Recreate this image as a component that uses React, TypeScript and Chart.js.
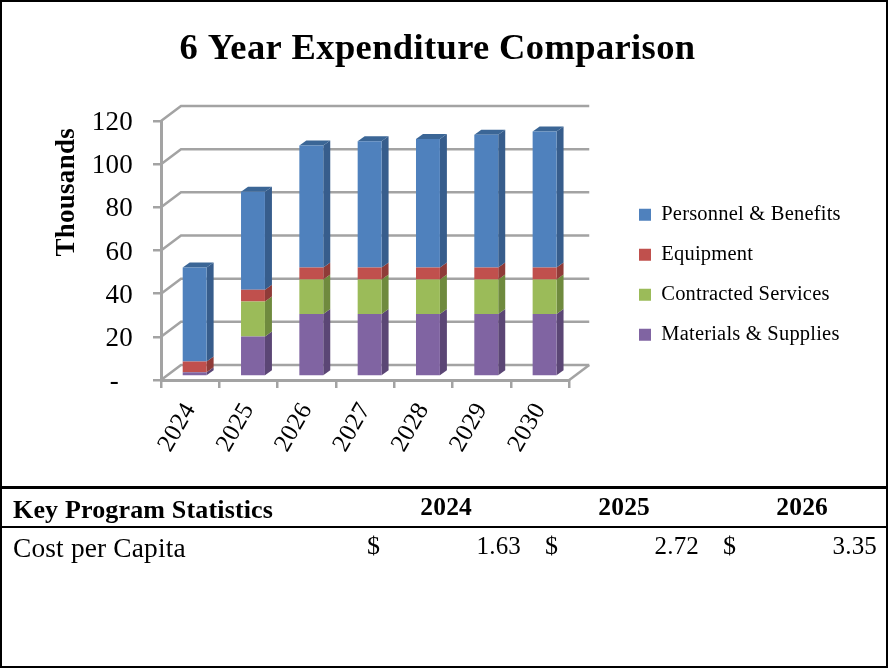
import React, { useEffect, useRef } from "react";
import { Chart, registerables } from "chart.js";

Chart.register(...registerables);

const FONT = "'Liberation Serif', serif";
const categories = ["2024", "2025", "2026", "2027", "2028", "2029", "2030"];
const materials = [2, 18.5, 29, 29, 29, 29, 29];
const contracted = [0, 16.3, 16, 16, 16, 16, 16];
const equipment = [5, 5.4, 5.5, 5.5, 5.5, 5.5, 5.5];
const personnel = [43.5, 45.4, 56.5, 58.5, 59.5, 61.5, 63];
const statYears = ["2024", "2025", "2026"];
const costPerCapita = ["1.63", "2.72", "3.35"];

const GRAY = "#a3a3a3";
const WALL = { x: 20, y: -15 };
const SHIFT = { x: 4.5, y: -3.5 };
const SIDE = { x: 7, y: -5 };
const sideColors = ["#5b4675", "#6f8a3e", "#8f3b38", "#375d8c"];

const depth3d = {
  id: "depth3d",
  beforeUpdate(chart: any) {
    chart.ctx.letterSpacing = "0.01em";
  },
  afterLayout(chart: any) {
    const legend = chart.legend;
    const h = legend.height;
    legend.left = 639 - 19.5;
    legend.right = 888;
    legend.top = 185;
    legend.bottom = legend.top + h;
    const title = chart.titleBlock;
    title.left = 0;
    title.right = 875;
  },
  beforeDatasetsDraw(chart: any) {
    const { ctx, chartArea: a, scales } = chart;
    ctx.save();
    ctx.strokeStyle = GRAY;
    ctx.lineWidth = 2.5;
    for (const t of scales.y.ticks) {
      const y = scales.y.getPixelForValue(t.value);
      ctx.beginPath();
      ctx.moveTo(a.left, y);
      ctx.lineTo(a.left + WALL.x, y + WALL.y);
      ctx.lineTo(a.right + WALL.x, y + WALL.y);
      ctx.stroke();
    }
    ctx.beginPath();
    ctx.moveTo(a.right, a.bottom);
    ctx.lineTo(a.right + WALL.x, a.bottom + WALL.y);
    ctx.stroke();
    ctx.restore();

    ctx.save();
    ctx.translate(SHIFT.x, SHIFT.y);
    chart.data.datasets.forEach((ds: any, di: number) => {
      const last = di === chart.data.datasets.length - 1;
      chart.getDatasetMeta(di).data.forEach((el: any) => {
        const { x, y, base, width } = el.getProps(["x", "y", "base", "width"], true);
        const r = x + width / 2;
        const l = x - width / 2;
        ctx.fillStyle = sideColors[di];
        ctx.beginPath();
        ctx.moveTo(r, y);
        ctx.lineTo(r + SIDE.x, y + SIDE.y);
        ctx.lineTo(r + SIDE.x, base + SIDE.y);
        ctx.lineTo(r, base);
        ctx.closePath();
        ctx.fill();
        if (last) {
          ctx.fillStyle = "#3b6696";
          ctx.beginPath();
          ctx.moveTo(l, y);
          ctx.lineTo(l + SIDE.x, y + SIDE.y);
          ctx.lineTo(r + SIDE.x, y + SIDE.y);
          ctx.lineTo(r, y);
          ctx.closePath();
          ctx.fill();
        }
      });
    });
    ctx.restore();

    ctx.save();
    ctx.translate(SHIFT.x, SHIFT.y);
  },
  afterDatasetsDraw(chart: any) {
    chart.ctx.restore();
  },
};

const cell = (left: number, top: number, text: string, opts: any = {}) => (
  <span
    key={`${left}-${top}-${text}-${opts.right}`}
    style={{
      position: "absolute",
      top,
      lineHeight: "30px",
      whiteSpace: "nowrap",
      ...(opts.right !== undefined ? { right: 888 - opts.right } : { left }),
      fontWeight: opts.bold ? 700 : 400,
      fontSize: opts.size ?? 25,
    }}
  >
    {text}
  </span>
);

export default function App() {
  const ref = useRef<HTMLCanvasElement>(null);
  useEffect(() => {
    document.body.style.margin = "0";
    const chart = new Chart(ref.current!, {
      type: "bar",
      data: {
        labels: categories,
        datasets: [
          { label: "Materials & Supplies", data: materials, backgroundColor: "#8064a2" },
          { label: "Contracted Services", data: contracted, backgroundColor: "#9bbb59" },
          { label: "Equipment", data: equipment, backgroundColor: "#c0504d" },
          { label: "Personnel & Benefits", data: personnel, backgroundColor: "#4f81bd" },
        ],
      },
      options: {
        responsive: false,
        animation: false,
        layout: { padding: { top: 0, left: 0, bottom: 0, right: 129 } },
        datasets: { bar: { barPercentage: 0.41, categoryPercentage: 1 } },
        plugins: {
          title: {
            display: true,
            text: "6 Year Expenditure Comparison",
            color: "#000",
            font: { family: FONT, size: 36.5, weight: "bold", lineHeight: 1.2 },
            padding: { top: 27.8, bottom: 49.4 },
          },
          legend: {
            position: "right",
            align: "start",
            reverse: true,
            labels: {
              boxWidth: 12,
              boxHeight: 12,
              padding: 19.5,
              color: "#000",
              font: { family: FONT, size: 20.5, lineHeight: 1 },
            },
          },
          tooltip: { enabled: false },
        },
        scales: {
          x: {
            stacked: true,
            afterFit(s: any) {
              s.height = 106;
            },
            border: { color: GRAY, width: 3 },
            grid: { drawOnChartArea: false, color: GRAY, lineWidth: 2.5, tickLength: 8 },
            ticks: {
              color: "#000",
              minRotation: 60,
              maxRotation: 60,
              padding: 10,
              font: { family: FONT, size: 25 },
            },
          },
          y: {
            stacked: true,
            min: 0,
            max: 120,
            afterFit(s: any) {
              s.width = 161;
            },
            border: { color: GRAY, width: 3 },
            grid: { drawOnChartArea: false, color: GRAY, lineWidth: 2.5, tickLength: 8 },
            title: {
              display: true,
              text: "Thousands ",
              align: "end",
              color: "#000",
              font: { family: FONT, size: 27, weight: "bold" },
              padding: { top: 51, bottom: 0 },
            },
            ticks: {
              stepSize: 20,
              color: "#000",
              padding: 20,
              labelOffset: 2,
              font: { family: FONT, size: 27 },
              callback: (v: any) => (v === 0 ? "-  " : String(v)),
            },
          },
        },
      },
      plugins: [depth3d],
    } as any);
    return () => chart.destroy();
  }, []);

  const dollarX = [367, 545, 723];
  const headEnds = [472, 650, 828];
  const valueEnds = [521, 699, 877];

  return (
    <div
      style={{
        position: "relative",
        width: 888,
        height: 668,
        boxSizing: "border-box",
        overflow: "hidden",
        background: "#fff",
        fontFamily: FONT,
        letterSpacing: "0.01em",
        color: "#000",
      }}
    >
      <canvas ref={ref} width={888} height={486} style={{ position: "absolute", left: 0, top: 0, display: "block" }} />
      <div style={{ position: "absolute", inset: 0, border: "2px solid #000", pointerEvents: "none" }} />
      <div style={{ position: "absolute", left: 0, width: 888, top: 486, height: 3, background: "#000" }} />
      <div style={{ position: "absolute", left: 0, width: 888, top: 526, height: 2, background: "#000" }} />
      {cell(13, 495, "Key Program Statistics", { bold: true, size: 26 })}
      {statYears.map((y, i) => cell(0, 492, y, { bold: true, right: headEnds[i], size: 25.5 }))}
      {cell(13, 533, "Cost per Capita", { size: 27.4 })}
      {costPerCapita.map((v, i) => (
        <React.Fragment key={v}>
          {cell(dollarX[i], 531, "$", { size: 26 })}
          {cell(0, 531, v, { right: valueEnds[i] })}
        </React.Fragment>
      ))}
    </div>
  );
}
